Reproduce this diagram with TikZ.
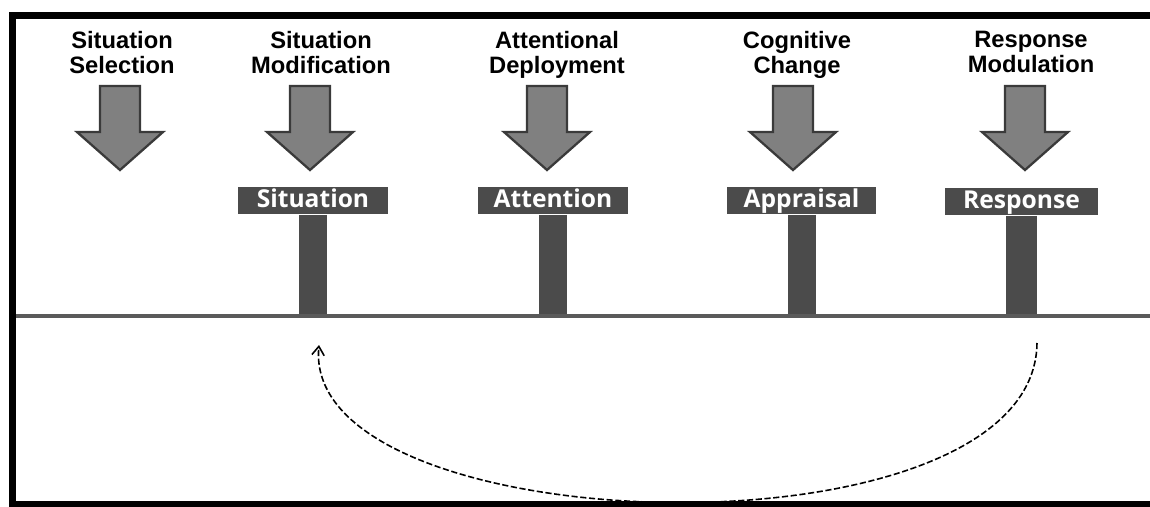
\documentclass[tikz,border=0pt]{standalone}
\usepackage{fontspec}
\setmainfont{Liberation Sans}
\newfontfamily\boxfont{Open Sans}
\usepackage{xcolor}
\usetikzlibrary{arrows.meta}

\definecolor{arrowgray}{HTML}{808080}
\definecolor{edgegray}{HTML}{3A3A3A}
\definecolor{boxgray}{HTML}{4B4B4B}
\definecolor{linegray}{HTML}{5A5A5A}

\tikzset{
    strategy/.style={align=center, font=\fontsize{13.5}{14.4}\selectfont\bfseries, inner sep=0pt, anchor=north},
    stagebox/.style={fill=boxgray, text=white, font=\boxfont\fontsize{14}{15}\selectfont\bfseries, minimum width=3cm, minimum height=0.56cm, inner sep=0pt, text height=10.8pt, text depth=2.7pt},
    bigarrow/.style={fill=arrowgray, draw=edgegray, line width=1.3pt, line join=miter},
    stem/.style={boxgray, line width=0.56cm}
}

\begin{document}
\begin{tikzpicture}[x=0.02cm, y=-0.02cm]
        \useasboundingbox (0,0) rectangle (1150,507);
        \draw[line width=0.14cm] (1150,15.5) -- (12.5,15.5) -- (12.5,504.5) -- (1150,504.5);

        % strategies
        \node[strategy] (sel) at (122,31) {Situation\\Selection};
        \node[strategy] (mod) at (321,31) {Situation\\Modification};
        \node[strategy] (dep) at (557,31) {Attentional\\Deployment};
        \node[strategy] (chg) at (797,31) {Cognitive\\Change};
        \node[strategy] (rmod) at (1031,31) {Response\\Modulation};

        \foreach \x in {120,310,547,793,1025} {
            \draw[bigarrow] (\x-20,86) -- (\x+20,86) -- (\x+20,132) -- (\x+43,132)
                -- (\x,170) -- (\x-43,132) -- (\x-20,132) -- cycle;
        }

        % stages
        \coordinate (gl) at (16,316);
        \coordinate (gr) at (1150,316);
        \node[stagebox] (sit) at (313,200.5) {Situation};
        \node[stagebox] (att) at (553,200.5) {Attention};
        \node[stagebox] (app) at (801.5,200.5) {Appraisal};
        \node[stagebox, minimum width=3.06cm] (res) at (1021.5,201.5) {Response};

        \foreach \s in {sit,att,app} {
            \draw[stem] (\s.south) -- (\s.south |- gl);
        }
        \draw[stem, line width=0.62cm] (res.south) -- (res.south |- gl);
        \draw[linegray, line width=2.5pt] (gl) -- (gr);

        % feedback loop
        \coordinate (fb-start) at (1037,343);
        \coordinate (fb-end) at (319,345);
        \draw[line width=0.9pt, dash pattern=on 3.5pt off 1.5pt, -{Straight Barb[length=5pt,width=7pt]}] (fb-start)
            .. controls (1035,565) and (300,545) .. (fb-end);
\end{tikzpicture}
\end{document}
